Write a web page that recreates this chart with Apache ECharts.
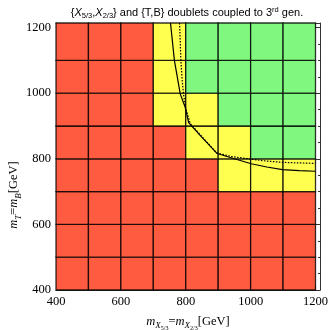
<!DOCTYPE html>
<html><head><meta charset="utf-8">
<script src="https://cdn.jsdelivr.net/npm/echarts@6/dist/echarts.min.js"></script>
<style>html,body{margin:0;padding:0;background:#fff}#c{width:331px;height:330px}</style>
</head><body><div id="c"></div>
<script>
// Cell edges (GeV)
const xEdges = [400, 500, 600, 700, 800, 900, 1000, 1100, 1200];
const yEdges = [400, 500, 600, 700, 800, 900, 1000, 1100, 1200];
// Cell status per row, bottom row first: R = excluded, Y = intermediate, G = allowed
const cellRows = [
  ['R','R','R','R','R','R','R','R'], // 400-500
  ['R','R','R','R','R','R','R','R'], // 500-600
  ['R','R','R','R','R','R','R','R'], // 600-700
  ['R','R','R','R','R','Y','Y','Y'], // 700-800
  ['R','R','R','R','Y','Y','G','G'], // 800-900
  ['R','R','R','Y','Y','G','G','G'], // 900-1000
  ['R','R','R','Y','G','G','G','G'], // 1000-1100
  ['R','R','R','Y','G','G','G','G']  // 1100-1200
];
// Solid contour
const solidX = [753, 765, 783, 798, 809, 840, 897, 950, 1002, 1050, 1098, 1150, 1200];
const solidY = [1214, 1100, 998, 958, 910, 876, 816, 800, 785, 775, 767, 764, 762];
// Dotted contour
const dottedX = [781, 785, 789, 793, 800, 814, 855, 895, 940, 1000, 1050, 1100, 1200];
const dottedY = [1214, 1100, 1040, 998, 953, 907, 862, 818, 807, 799, 793, 789, 786];
// Axis tick labels
const tickLabels = [400, 600, 800, 1000, 1200];

const statusColor = { R: '#ff5b40', Y: '#ffff50', G: '#80f880' };
const AXMAX = 1214;

const cells = [];
cellRows.forEach((row, j) => {
  row.forEach((s, i) => {
    cells.push({ value: [xEdges[i], xEdges[i + 1], yEdges[j], yEdges[j + 1]], itemStyle: { color: statusColor[s] } });
  });
});
const pairs = (xs, ys) => xs.map((x, k) => [x, ys[k]]);

const serif = '"Liberation Serif", "DejaVu Serif", serif';
const sans = '"Liberation Sans", Arial, sans-serif';
const frameColor = '#333';

function mkAxis(pos, interval, tickLen, showLine, showLabel) {
  return {
    type: 'value', position: pos, min: 400, max: AXMAX, interval: interval,
    axisLine: { show: showLine, onZero: false, lineStyle: { color: frameColor, width: 1 } },
    axisTick: { show: true, inside: true, length: tickLen, lineStyle: { color: frameColor, width: 1 } },
    axisLabel: {
      show: showLabel, color: '#000', fontFamily: serif, fontSize: 12.5, margin: 5,
      formatter: v => (tickLabels.indexOf(v) >= 0 ? String(v) : '')
    },
    splitLine: { show: false }
  };
}

const chart = echarts.init(document.getElementById('c'), null, { renderer: 'canvas' });
chart.setOption({
  animation: false,
  backgroundColor: '#fff',
  grid: { left: 56, right: 8, top: 23, bottom: 40, containLabel: false },
  xAxis: [
    mkAxis('bottom', 200, 4, true, true),
    mkAxis('bottom', 50, 2, false, false),
    mkAxis('top', 200, 4, true, false),
    mkAxis('top', 50, 2, false, false)
  ],
  yAxis: [
    mkAxis('left', 200, 4, true, true),
    mkAxis('left', 50, 2, false, false),
    mkAxis('right', 200, 4, true, false),
    mkAxis('right', 50, 2, false, false)
  ],
  series: [
    {
      type: 'custom', xAxisIndex: 0, yAxisIndex: 0, z: 1, clip: false,
      renderItem: function (params, api) {
        const p0 = api.coord([api.value(0), api.value(2)]);
        const p1 = api.coord([api.value(1), api.value(3)]);
        let top = p1[1];
        if (api.value(3) >= 1200) top = params.coordSys.y; // top row fills up to the frame
        return {
          type: 'rect',
          shape: { x: p0[0], y: top, width: p1[0] - p0[0], height: p0[1] - top },
          style: { fill: api.visual('color'), stroke: 'rgba(0,0,0,0.8)', lineWidth: 1.3 }
        };
      },
      data: cells
    },
    {
      type: 'line', xAxisIndex: 0, yAxisIndex: 0, z: 5, symbol: 'none', clip: false,
      lineStyle: { color: '#000', width: 1.2 },
      data: pairs(solidX, solidY)
    },
    {
      type: 'line', xAxisIndex: 0, yAxisIndex: 0, z: 5, symbol: 'none', clip: false,
      lineStyle: { color: '#000', width: 1.2, type: [1.5, 1.5] },
      data: pairs(dottedX, dottedY)
    }
  ],
  graphic: [
    {
      type: 'text', x: 187, y: 13, z: 10,
      style: {
        text: '{{i|X}{s|5/3},{i|X}{s|2/3}} and {T,B} doublets coupled to 3{p|rd} gen.',
        font: '11px ' + sans, fill: '#000', align: 'center', verticalAlign: 'middle',
        rich: {
          i: { fontFamily: sans, fontSize: 11, fontStyle: 'italic', fill: '#000', lineHeight: 14 },
          s: { fontFamily: sans, fontSize: 7.5, fill: '#000', verticalAlign: 'bottom', lineHeight: 14 },
          p: { fontFamily: sans, fontSize: 7.5, fill: '#000', verticalAlign: 'top', lineHeight: 14 }
        }
      }
    },
    {
      type: 'text', x: 188, y: 322, z: 10,
      style: {
        text: '{i|m}{s|X}{ss|5/3}{t|=}{i|m}{s|X}{ss|2/3}{t|[GeV]}',
        align: 'center', verticalAlign: 'middle',
        rich: {
          i: { fontFamily: serif, fontSize: 12.5, fontStyle: 'italic', fill: '#000', lineHeight: 18 },
          t: { fontFamily: serif, fontSize: 12.5, fill: '#000', lineHeight: 18 },
          s: { fontFamily: serif, fontSize: 9, fontStyle: 'italic', fill: '#000', verticalAlign: 'bottom', lineHeight: 18, padding: [0, 0, 1, 0] },
          ss: { fontFamily: serif, fontSize: 6, fill: '#000', verticalAlign: 'bottom', lineHeight: 18 }
        }
      }
    },
    {
      type: 'text', x: 14, y: 195, rotation: Math.PI / 2, z: 10,
      style: {
        text: '{i|m}{s|T}{t|=}{i|m}{s|B}{t|[GeV]}',
        align: 'center', verticalAlign: 'middle',
        rich: {
          i: { fontFamily: serif, fontSize: 12.5, fontStyle: 'italic', fill: '#000', lineHeight: 18 },
          t: { fontFamily: serif, fontSize: 12.5, fill: '#000', lineHeight: 18 },
          s: { fontFamily: serif, fontSize: 9, fontStyle: 'italic', fill: '#000', verticalAlign: 'bottom', lineHeight: 18 }
        }
      }
    }
  ]
});
</script>
</body></html>
